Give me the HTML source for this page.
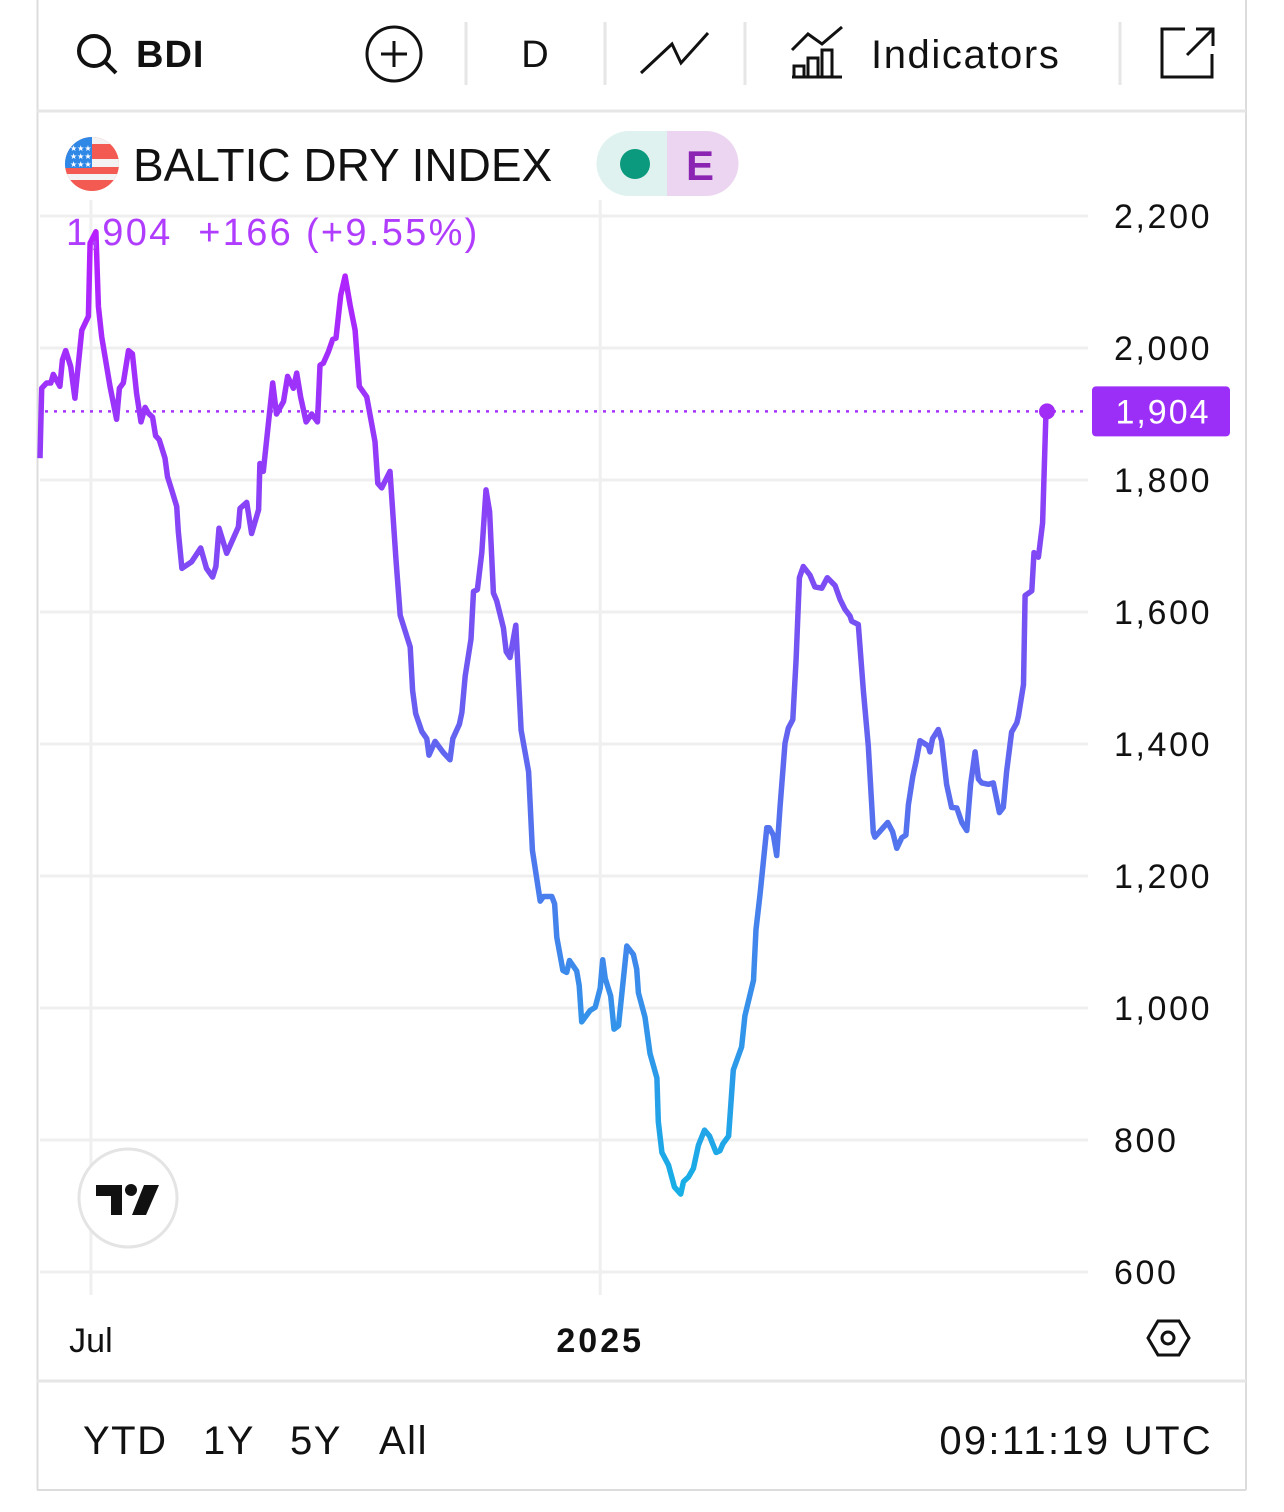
<!DOCTYPE html>
<html><head><meta charset="utf-8"><style>
html,body{margin:0;padding:0;background:#fff;}
body{width:1284px;height:1512px;position:relative;overflow:hidden;font-family:"Liberation Sans",sans-serif;}
svg{position:absolute;left:0;top:0;}
</style></head><body>
<svg id="chart" width="1284" height="1512" viewBox="0 0 1284 1512">
<defs>
<linearGradient id="lg" gradientUnits="userSpaceOnUse" x1="0" y1="230" x2="0" y2="1200">
<stop offset="0" stop-color="#b71dff"/><stop offset="0.45" stop-color="#6f58f2"/><stop offset="1" stop-color="#16b0e6"/>
</linearGradient>
</defs>
<g id="frame">
<line x1="37.5" y1="0" x2="37.5" y2="1490" stroke="#dcdcdc" stroke-width="2"/>
<line x1="1246" y1="0" x2="1246" y2="1490" stroke="#dcdcdc" stroke-width="2"/>
<line x1="37" y1="1490" x2="1246" y2="1490" stroke="#dcdcdc" stroke-width="2"/>
<line x1="37" y1="111" x2="1246" y2="111" stroke="#e6e6e6" stroke-width="3"/>
<line x1="37" y1="1381" x2="1246" y2="1381" stroke="#e6e6e6" stroke-width="3"/>
</g>
<g id="toolbar">
<g><circle cx="94" cy="51" r="15" fill="none" stroke="#111" stroke-width="4"/><line x1="105" y1="62" x2="116" y2="73" stroke="#111" stroke-width="4"/></g>
<text x="136" y="67" font-size="38" font-weight="bold" fill="#111" letter-spacing="1">BDI</text>
<g><circle cx="394" cy="54" r="27" fill="none" stroke="#111" stroke-width="3"/><line x1="381" y1="54" x2="407" y2="54" stroke="#111" stroke-width="3"/><line x1="394" y1="41" x2="394" y2="67" stroke="#111" stroke-width="3"/></g>
<line x1="466" y1="22" x2="466" y2="85" stroke="#e6e6e6" stroke-width="3"/>
<text x="535" y="67" font-size="38" fill="#111" text-anchor="middle">D</text>
<line x1="605" y1="22" x2="605" y2="85" stroke="#e6e6e6" stroke-width="3"/>
<polyline points="641,73 672,44 681,63 708,33" fill="none" stroke="#111" stroke-width="3"/>
<line x1="745" y1="22" x2="745" y2="85" stroke="#e6e6e6" stroke-width="3"/>
<g fill="none" stroke="#111" stroke-width="3"><polyline points="792,50 808,34 822,44 842,27"/><rect x="794" y="66" width="10" height="11"/><rect x="808" y="58" width="10" height="19"/><rect x="822" y="50" width="10" height="27"/><line x1="792" y1="77" x2="842" y2="77"/></g>
<text x="871" y="68" font-size="40" fill="#111" letter-spacing="1.6">Indicators</text>
<line x1="1120" y1="22" x2="1120" y2="85" stroke="#e6e6e6" stroke-width="3"/>
<g fill="none" stroke="#111" stroke-width="3"><path d="M1185 29 H1162 V77 H1212 V54"/><line x1="1187" y1="55" x2="1213" y2="29"/><polyline points="1196,29 1213,29 1213,46"/></g>
</g>
<g id="grid"></g>
<g id="yaxis"></g>
<g id="xaxis"></g>
<line id="lastline" x1="45" x2="1088" stroke="#a633ff" stroke-width="2.5" stroke-dasharray="3,6"/>
<path id="series" fill="none" stroke="url(#lg)" stroke-width="5.5" stroke-linejoin="round"/>
<circle id="lastdot" r="8" fill="#a12cf5"/>
<g id="pricetag"><rect id="tagrect" x="1092" width="138" height="50" rx="4" fill="#9b2ff7"/><text id="tagtext" x="1163" font-size="34" fill="#fff" text-anchor="middle" letter-spacing="2"></text></g>
<g id="header">
<rect x="60" y="128" width="700" height="72" fill="#fff"/>
<g>
<clipPath id="fc"><circle cx="92" cy="164" r="27"/></clipPath>
<g clip-path="url(#fc)"><rect x="64" y="136" width="56" height="56" fill="#f25a52"/><rect x="64" y="159" width="56" height="8" fill="#f3f3f3"/><rect x="64" y="174" width="56" height="6" fill="#f3f3f3"/><rect x="64" y="136" width="56" height="8" fill="#f3f3f3"/><rect x="64" y="136" width="28" height="32" fill="#2f87e6"/></g>
<text x="70" y="151" font-size="8" fill="#fff">★★★</text><text x="70" y="159" font-size="8" fill="#fff">★★★</text><text x="70" y="167" font-size="8" fill="#fff">★★★</text>
</g>
<text x="133" y="181" font-size="46" fill="#111">BALTIC DRY INDEX</text>
<g>
<path d="M629 131 H667 V196 H629 A32.5 32.5 0 0 1 629 131 Z" fill="#e0f2ef"/>
<path d="M667 131 H706 A32.5 32.5 0 0 1 706 196 H667 Z" fill="#ecd5f0"/>
<circle cx="635" cy="164" r="15" fill="#0c9a7f"/>
<text x="700" y="180" font-size="42" font-weight="bold" fill="#8b24b3" text-anchor="middle">E</text>
</g>
<text x="66" y="245" font-size="38" fill="#b03cff" letter-spacing="2.3" xml:space="preserve" style="white-space:pre">1,904  +166 (+9.55%)</text>
</g>
<g>
<circle cx="128" cy="1198" r="49" fill="#fff" stroke="#e4e4e4" stroke-width="3"/>
<path d="M96 1185 H122 V1215 H111 V1196 H96 Z" fill="#111"/><circle cx="131" cy="1190" r="6" fill="#111"/><path d="M144 1185 H159 L146 1215 H132 Z" fill="#111"/>
</g>
<g fill="none" stroke="#111" stroke-width="3"><polygon points="1158,1321 1179,1321 1189,1338 1179,1355 1158,1355 1148,1338"/><circle cx="1168" cy="1338" r="6"/></g>
<g id="ranges" font-size="40" fill="#111">
<text x="83" y="1454" letter-spacing="1.5">YTD</text>
<text x="203" y="1454" letter-spacing="1.5">1Y</text>
<text x="290" y="1454" letter-spacing="1.5">5Y</text>
<text x="379" y="1454" letter-spacing="1.5">All</text>
<text x="1213" y="1454" text-anchor="end" letter-spacing="2.3">09:11:19 UTC</text>
</g>
</svg>
<script>
const yTicks = [600, 800, 1000, 1200, 1400, 1600, 1800, 2000, 2200];
const yTickLabels = ["600", "800", "1,000", "1,200", "1,400", "1,600", "1,800", "2,000", "2,200"];
const xTickDays = [18.4, 202.5];
const xTickLabels = ["Jul", "2025"];
const days = [0,0.6,2.4,3.9,4.8,7.2,8.1,9.3,11.1,12.6,15.1,15.7,17.5,18.1,20.2,21.1,22.3,25.3,27.7,28.7,30.1,32.0,33.4,34.9,36.5,38.0,39.2,40.7,41.8,43.1,45.2,46.1,47.6,49.4,50.0,51.3,54.8,58.1,60.2,62.4,63.6,64.7,67.5,71.7,72.3,74.7,76.5,79.0,79.5,80.7,84.1,85.5,88.0,89.5,91.6,92.8,94.2,96.2,98.2,100.3,101.2,102.4,104.2,105.8,107.0,108.7,110.3,112.1,113.9,115.4,118.1,121.1,122.1,123.5,126.5,128.7,130.2,133.8,134.7,135.8,138.0,139.8,140.6,142.8,145.8,148.2,149.2,151.6,152.5,153.7,155.8,156.7,158.1,159.7,161.2,162.5,163.9,165.1,167.5,168.5,169.9,172.0,173.9,176.6,178.0,180.8,182.0,185.0,186.0,186.8,189.0,190.4,191.4,194.0,194.9,195.8,198.8,200.7,202.5,203.4,204.3,206.3,207.5,209.1,212.1,214.5,215.7,216.3,218.7,220.5,223.0,223.5,224.8,227.2,229.3,231.6,232.6,234.4,236.2,238.0,240.2,242.0,244.4,245.8,246.8,248.9,250.6,253.6,254.8,257.9,258.8,260.3,262.7,263.6,265.1,266.3,267.5,269.3,270.5,272.1,273.3,274.5,275.9,278.3,280.1,282.6,284.6,287.4,289.2,291.0,292.8,293.4,295.8,297.6,299.4,301.2,301.8,306.4,308.2,309.7,311.5,313.0,313.9,315.5,316.7,318.1,321.1,321.7,322.6,324.7,325.9,327.7,329.5,331.4,333.2,335.0,336.4,338.0,339.2,340.4,342.8,344.6,345.8,346.8,348.2,349.4,351.2,353.1,353.7,355.5,356.1,358.5,359.3,360.9,362.4,363.6,364];
const values = [1833,1939,1947,1947,1960,1942,1982,1996,1972,1924,2027,2032,2048,2159,2176,2063,2017,1942,1892,1939,1947,1996,1991,1931,1888,1910,1901,1895,1867,1861,1833,1805,1785,1760,1722,1666,1676,1697,1666,1653,1669,1727,1689,1729,1757,1766,1719,1755,1825,1813,1947,1900,1919,1957,1939,1962,1926,1888,1900,1888,1974,1977,1994,2013,2015,2080,2109,2065,2027,1942,1926,1858,1795,1788,1813,1679,1595,1547,1481,1446,1419,1408,1383,1404,1387,1376,1408,1430,1448,1503,1559,1631,1634,1690,1785,1752,1629,1617,1576,1540,1531,1580,1421,1358,1239,1162,1169,1169,1158,1107,1057,1054,1072,1056,1034,979,996,1001,1030,1073,1045,1018,968,973,1094,1081,1059,1023,986,931,894,828,781,762,729,718,737,744,757,792,815,806,781,784,794,806,906,941,988,1042,1119,1173,1273,1273,1262,1231,1304,1401,1424,1437,1528,1652,1669,1656,1638,1636,1652,1640,1619,1604,1594,1586,1581,1482,1397,1266,1259,1281,1267,1242,1258,1262,1308,1351,1374,1405,1397,1388,1408,1422,1405,1339,1304,1303,1281,1269,1339,1388,1347,1341,1339,1341,1316,1296,1304,1358,1418,1432,1443,1490,1625,1632,1690,1683,1735,1899,1904];
const lastValue = 1904;

const X0=40, X1=1047, D0=0, D1=364;
const Y_TOP=216, V_TOP=2200, PXU=0.66;
function xScale(d){return X0+(d-D0)*(X1-X0)/(D1-D0);}
function yScale(v){return Y_TOP+(V_TOP-v)*PXU;}
const NS="http://www.w3.org/2000/svg";
const grid=document.getElementById('grid');
const yaxis=document.getElementById('yaxis');
const xaxis=document.getElementById('xaxis');
yTicks.forEach((t,i)=>{
  const y=yScale(t);
  const l=document.createElementNS(NS,'line');
  l.setAttribute('x1',40);l.setAttribute('x2',1088);l.setAttribute('y1',y);l.setAttribute('y2',y);
  l.setAttribute('stroke','#efefef');l.setAttribute('stroke-width','3');
  
  
  grid.appendChild(l);
  const tx=document.createElementNS(NS,'text');
  tx.setAttribute('x',1114);tx.setAttribute('y',y+12);tx.setAttribute('font-size','34');tx.setAttribute('fill','#111');
  tx.setAttribute('letter-spacing','2.6');
  tx.textContent=yTickLabels[i];
  
  
  yaxis.appendChild(tx);
});
xTickDays.forEach((d,i)=>{
  const x=xScale(d);
  const l=document.createElementNS(NS,'line');
  l.setAttribute('x1',x);l.setAttribute('x2',x);l.setAttribute('y1',200);l.setAttribute('y2',1295);
  l.setAttribute('stroke','#efefef');l.setAttribute('stroke-width','3');
  
  
  grid.appendChild(l);
  const tx=document.createElementNS(NS,'text');
  tx.setAttribute('x',x);tx.setAttribute('y',1352);tx.setAttribute('font-size','34');tx.setAttribute('fill','#111');
  tx.setAttribute('text-anchor','middle');
  if(i===1){tx.setAttribute('font-weight','bold');tx.setAttribute('letter-spacing','3');}
  tx.textContent=xTickLabels[i];
  
  
  xaxis.appendChild(tx);
});
let dstr='';
days.forEach((d,i)=>{dstr+=(i?'L':'M')+xScale(d).toFixed(1)+' '+yScale(values[i]).toFixed(1);});
document.getElementById('series').setAttribute('d',dstr);
const ly=yScale(lastValue), lx=xScale(days[days.length-1]);
const ll=document.getElementById('lastline');ll.setAttribute('y1',ly);ll.setAttribute('y2',ly);
const dot=document.getElementById('lastdot');dot.setAttribute('cx',lx);dot.setAttribute('cy',ly);
document.getElementById('tagrect').setAttribute('y',ly-25);
const tt=document.getElementById('tagtext');tt.setAttribute('y',ly+12);tt.textContent=lastValue.toLocaleString('en-US');
</script>
</body></html>
